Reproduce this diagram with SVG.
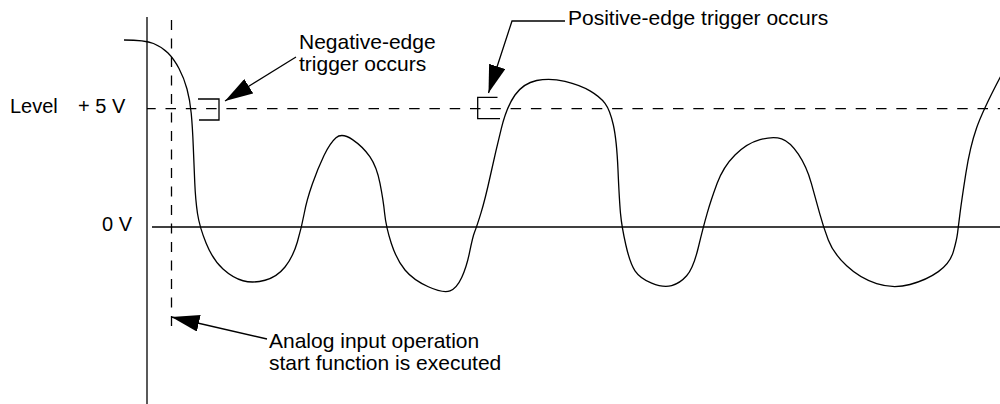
<svg xmlns="http://www.w3.org/2000/svg" width="1000" height="404" viewBox="0 0 1000 404">
<style>
.ln{fill:none;stroke:#000;stroke-width:1.3}
.dashh{fill:none;stroke:#000;stroke-width:1.3;stroke-dasharray:10.5 9.8;stroke-dashoffset:1.8}
.dashv{fill:none;stroke:#000;stroke-width:1.3;stroke-dasharray:10 8.5}
.t{font-family:"Liberation Sans",Arial,Helvetica,sans-serif;font-size:21px;fill:#000}
.t20{font-family:"Liberation Sans",Arial,Helvetica,sans-serif;font-size:20px;fill:#000}
</style>
<defs>
<marker id="ah" markerUnits="userSpaceOnUse" viewBox="0 0 28 17" refX="28" refY="8.5" markerWidth="28" markerHeight="17" orient="auto">
<path d="M0,0 L28,8.5 L0,17 z" fill="#000"/>
</marker>
</defs>
<rect width="1000" height="404" fill="#fff"/>
<g id="axes">
<line class="ln" x1="147" y1="17" x2="147" y2="404"/>
<line class="ln" x1="152" y1="227" x2="1000" y2="227"/>
<line class="dashh" x1="147" y1="108.7" x2="1000" y2="108.7"/>
<line class="dashv" x1="171.5" y1="20" x2="171.5" y2="328"/>
</g>
<g id="labels">
<text class="t20" x="10" y="113.3">Level</text>
<text class="t20" x="78" y="113.3">+ 5 V</text>
<text class="t20" x="102" y="231">0 V</text>
</g>
<g id="waveform">
<path class="ln" d="M124,40 Q145,40 153.5,43.5 Q162,47 168,53 Q174,59 179,68.5 Q184,78 187,89 Q190,100 191.25,113.5 Q192.5,127 193.25,146 Q194,165 194.75,182.5 Q195.5,200 197.5,213.5 Q199.5,227 206.25,243.5 Q213,260 223,269 Q233,278 243,280.75 Q253,283.5 265,280.25 Q277,277 285,267 Q293,257 297.35,242 Q301.7,227 304.2,213.5 Q306.7,200 312.35,184 Q318,168 324,155.5 Q330,143 336,137.75 Q342,132.5 352.5,139.6 Q363,146.7 369.85,156.7 Q376.7,166.7 380,183.35 Q383.3,200 384.65,213.5 Q386,227 391.35,243.5 Q396.7,260 405,270 Q413.3,280 428.3,286.75 Q443.3,293.5 450,290.9 Q456.7,288.3 461.7,277.5 Q466.7,266.7 469.7,251.7 Q472.7,236.7 474.7,231.7 Q476.7,226.7 480.85,213.35 Q485,200 490.5,175 Q496,150 501.35,128.35 Q506.7,106.7 515,95 Q523.3,83.3 536.65,80.5 Q550,77.7 565,81.35 Q580,85 590,90.85 Q600,96.7 605,103.35 Q610,110 613.35,125 Q616.7,140 618,170 Q619.3,200 620.5,213.35 Q621.7,226.7 625.85,245 Q630,263.3 635,270.8 Q640,278.3 651.65,283.15 Q663.3,288 671.65,285.65 Q680,283.3 686.65,275.8 Q693.3,268.3 698.3,247.5 Q703.3,226.7 707.15,213.35 Q711,200 717.15,183.35 Q723.3,166.7 735,155 Q746.7,143.3 760,139.65 Q773.3,136 781.65,138.85 Q790,141.7 798.35,154.2 Q806.7,166.7 811.35,183.35 Q816,200 819.65,213.35 Q823.3,226.7 828.3,240 Q833.3,253.3 846.65,265.8 Q860,278.3 876.65,283.65 Q893.3,289 910,284.5 Q926.7,280 938.35,271.65 Q950,263.3 953.35,251.65 Q956.7,240 957.5,233.35 Q958.3,226.7 960,213.35 Q961.7,200 965.85,173.35 Q970,146.7 976.65,127.7 Q983.3,108.7 1004,70"/>
</g>
<g id="neg-trigger">
<path class="ln" d="M198,99 H219 V120 H199"/>
<text class="t" x="299" y="49.3">Negative-edge</text>
<text class="t" x="299" y="70.5">trigger occurs</text>
</g>
<g id="pos-trigger">
<path class="ln" d="M497.5,97.3 H477.7 V118.7 H500"/>
<text class="t" x="568" y="25">Positive-edge trigger occurs</text>
</g>
<g id="start-note">
<text class="t" x="269" y="347.7">Analog input operation</text>
<text class="t" x="269" y="369.5">start function is executed</text>
</g>
<g id="connectors">
<line class="ln" x1="296" y1="57" x2="225" y2="101" marker-end="url(#ah)"/>
<polyline class="ln" points="565,21 512,21 488.5,93" marker-end="url(#ah)"/>
<line class="ln" x1="267" y1="339" x2="171.5" y2="317" marker-end="url(#ah)"/>
</g>
</svg>
